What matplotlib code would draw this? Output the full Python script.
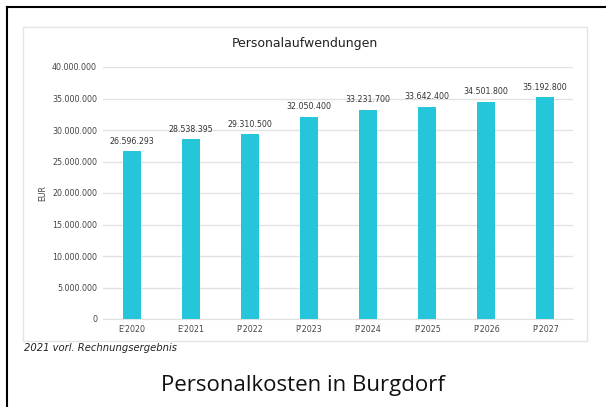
import matplotlib.pyplot as plt
from matplotlib.patches import Rectangle
from matplotlib.lines import Line2D
from matplotlib.ticker import FuncFormatter

# data
years = ["E'2020", "E'2021", "P'2022", "P'2023", "P'2024", "P'2025", "P'2026", "P'2027"]
costs = [26596293, 28538395, 29310500, 32050400, 33231700, 33642400, 34501800, 35192800]
yticks = [0, 5000000, 10000000, 15000000, 20000000, 25000000, 30000000, 35000000, 40000000]

def dots(v):
    return f"{int(v):,}".replace(",", ".")

fig = plt.figure(figsize=(6.06, 4.07), dpi=100)
W, H = 606, 407

# outer frame (top and left black lines)
fig.add_artist(Line2D([7 / W, 7 / W], [0, 1 - 7 / H], color='black', lw=1.5))
fig.add_artist(Line2D([7 / W, 1], [1 - 7 / H, 1 - 7 / H], color='black', lw=1.5))

# light panel around chart
fig.add_artist(Rectangle((23 / W, 1 - 341 / H), (587 - 23) / W, (341 - 27) / H,
                         fill=False, edgecolor='#e4e4e4', lw=1))

ax = fig.add_axes([103 / W, 1 - 319 / H, (573 - 103) / W, (319 - 67) / H])
x = list(range(len(years)))
ax.bar(x, costs, width=0.30, color='#26C6DA', zorder=3)
for xi, v in zip(x, costs):
    ax.annotate(dots(v), (xi, v), xytext=(0, 7.3), textcoords='offset points',
                ha='center', va='center', fontsize=5.7, color='#333333')

ax.set_xlim(-0.49, 7.47)
ax.set_ylim(0, 40000000)
ax.set_yticks(yticks)
ax.yaxis.set_major_formatter(FuncFormatter(lambda v, p: dots(v)))
ax.set_xticks(x)
ax.set_xticklabels(years)
ax.tick_params(axis='both', length=0, labelsize=5.7, colors='#444444')
ax.tick_params(axis='y', pad=4.3)
ax.tick_params(axis='x', pad=4.5)
ax.grid(axis='y', color='#e2e2e2', lw=1, zorder=0)
for s in ['top', 'right', 'left']:
    ax.spines[s].set_visible(False)
ax.spines['bottom'].set_color('#e2e2e2')

fig.text(43 / W, 1 - 193 / H, 'EUR', rotation=90, ha='center', va='center',
         fontsize=5.7, color='#444444')
fig.text(305 / W, 1 - 44 / H, 'Personalaufwendungen', ha='center', va='center',
         fontsize=9, color='#222222')
fig.text(24 / W, 1 - 348 / H, '2021 vorl. Rechnungsergebnis', ha='left', va='center',
         fontsize=7.2, style='italic', color='#222222')
fig.text(303 / W, 1 - 385 / H, 'Personalkosten in Burgdorf', ha='center', va='center',
         fontsize=16, family='Open Sans', color='#111111')

fig.savefig('out.png', dpi=100)
